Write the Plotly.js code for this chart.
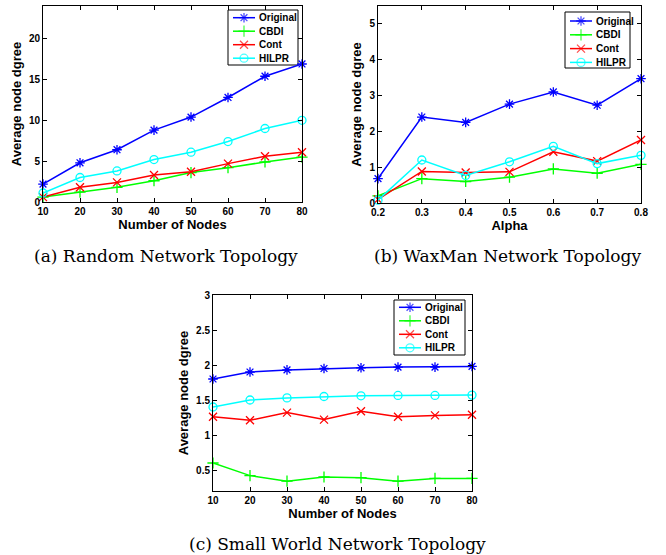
<!DOCTYPE html>
<html><head><meta charset="utf-8">
<script src="https://cdn.plot.ly/plotly-3.0.1.min.js"></script>
<style>body{margin:0;background:#fff}#c{width:666px;height:555px}</style>
</head><body><div id="c"></div>
<script>
const seriesNames = ['Original','CBDI','Cont','HILPR'];
const nodesX = [10,20,30,40,50,60,70,80];
const alphaX = [0.2,0.3,0.4,0.5,0.6,0.7,0.8];

const randOriginal = [2.2,4.8,6.4,8.8,10.4,12.8,15.4,16.9];
const randCBDI     = [0.6,1.2,1.8,2.6,3.6,4.2,4.9,5.5];
const randCont     = [0.6,1.8,2.4,3.3,3.7,4.7,5.6,6.1];
const randHILPR    = [1.1,3.0,3.8,5.2,6.1,7.4,9.0,10.0];

const waxOriginal = [0.68,2.4,2.25,2.76,3.1,2.73,3.47];
const waxCBDI     = [0.2,0.68,0.6,0.72,0.95,0.83,1.08];
const waxCont     = [0.1,0.88,0.85,0.87,1.43,1.17,1.76];
const waxHILPR    = [0.08,1.2,0.77,1.15,1.58,1.1,1.33];

const swOriginal = [1.8,1.9,1.93,1.95,1.96,1.97,1.97,1.98];
const swCBDI     = [0.6,0.42,0.34,0.4,0.39,0.34,0.38,0.38];
const swCont     = [1.26,1.21,1.32,1.22,1.34,1.26,1.28,1.29];
const swHILPR    = [1.4,1.5,1.53,1.55,1.56,1.565,1.565,1.57];

const captions = ['(a) Random Network Topology','(b) WaxMan Network Topology','(c) Small World Network Topology'];

const W = 666, H = 555;
const colors = ['#0000ff','#00ff00','#ff0000','#00ffff'];
const symbols = ['asterisk-open','cross-thin-open','x-thin-open','circle-open'];

const traces = [];
function addSet(x, ys, xa, ya){
  ys.forEach((y,i)=>{
    traces.push({x:x,y:y,xaxis:xa,yaxis:ya,name:seriesNames[i],type:'scatter',mode:'lines+markers',showlegend:false,
      line:{color:colors[i],width:1.5},cliponaxis:false,
      marker:{symbol:symbols[i],size:8,color:colors[i],line:{color:colors[i],width:1.3}}});
  });
}
addSet(nodesX,[randOriginal,randCBDI,randCont,randHILPR],'x','y');
addSet(alphaX,[waxOriginal,waxCBDI,waxCont,waxHILPR],'x2','y2');
addSet(nodesX,[swOriginal,swCBDI,swCont,swHILPR],'x3','y3');

// legend boxes (pixel layout): left, top, width, height, first row offset, row step
const legendBoxes = [
  {l:228, t:10, w:70, h:55, r0:7.7, dr:13.5},
  {l:565, t:12, w:65, h:56, r0:9, dr:13.8},
  {l:394, t:300, w:71, h:55, r0:7.3, dr:13.5}
];
const shapes = [];
const annotations = [];
const legFont = {family:'Liberation Sans, Arial, sans-serif',size:10,color:'#000',weight:'bold'};
legendBoxes.forEach(b=>{
  shapes.push({type:'rect',xref:'paper',yref:'paper',x0:b.l/W,x1:(b.l+b.w)/W,y0:1-b.t/H,y1:1-(b.t+b.h)/H,
    line:{color:'#000',width:1},fillcolor:'#fff',layer:'below'});
  seriesNames.forEach((n,i)=>{
    const yy = b.t + b.r0 + i*b.dr;
    traces.push({x:[b.l+5,b.l+16,b.l+27],y:[yy,yy,yy],xaxis:'x4',yaxis:'y4',type:'scatter',mode:'lines+markers',
      showlegend:false,cliponaxis:false,line:{color:colors[i],width:1.5},
      marker:{symbol:symbols[i],size:[0,8,0],color:colors[i],line:{color:colors[i],width:1.3}}});
    annotations.push({text:n,xref:'paper',yref:'paper',x:(b.l+29)/W,y:1-yy/H,xanchor:'left',yanchor:'middle',
      showarrow:false,font:legFont});
  });
});

const tickFont = {family:'Liberation Sans, Arial, sans-serif',size:10,color:'#000',weight:'bold'};
const titleFont = {family:'Liberation Sans, Arial, sans-serif',size:13,color:'#000',weight:'bold'};
function ax(extra){
  return Object.assign({showline:true,mirror:'ticks',linecolor:'#000',linewidth:1,ticks:'inside',ticklen:4,
    tickcolor:'#000',showgrid:false,zeroline:false,tickfont:tickFont,fixedrange:true},extra);
}
const capFont = {family:'DejaVu Serif, Liberation Serif, serif',size:17,color:'#000'};
annotations.push(
  {text:captions[0],x:166/W,y:1-256/H,xref:'paper',yref:'paper',xanchor:'center',yanchor:'middle',showarrow:false,font:capFont},
  {text:captions[1],x:507/W,y:1-256/H,xref:'paper',yref:'paper',xanchor:'center',yanchor:'middle',showarrow:false,font:capFont},
  {text:captions[2],x:337/W,y:1-544/H,xref:'paper',yref:'paper',xanchor:'center',yanchor:'middle',showarrow:false,font:capFont}
);

const layout = {
  width:W,height:H,margin:{l:0,r:0,t:0,b:0},paper_bgcolor:'#fff',plot_bgcolor:'rgba(0,0,0,0)',showlegend:false,
  xaxis: ax({domain:[43/W,302/W],anchor:'y',range:[10,80],tickvals:nodesX,title:{text:'Number of Nodes',font:titleFont,standoff:2}}),
  yaxis: ax({domain:[1-202/H,1-6/H],anchor:'x',range:[0,24],tickvals:[0,5,10,15,20],title:{text:'Average node dgree',font:titleFont,standoff:4}}),
  xaxis2: ax({domain:[378/W,641/W],anchor:'y2',range:[0.2,0.8],tickvals:alphaX,ticktext:alphaX.map(v=>v.toFixed(1)),title:{text:'Alpha',font:titleFont,standoff:2}}),
  yaxis2: ax({domain:[1-203/H,1-6/H],anchor:'x2',range:[0,5.5],tickvals:[0,1,2,3,4,5],title:{text:'Average node dgree',font:titleFont,standoff:4}}),
  xaxis3: ax({domain:[213/W,472/W],anchor:'y3',range:[10,80],tickvals:nodesX,title:{text:'Number of Nodes',font:titleFont,standoff:2}}),
  yaxis3: ax({domain:[1-491/H,1-295/H],anchor:'x3',range:[0.2,3],tickvals:[0.5,1,1.5,2,2.5,3],title:{text:'Average node dgree',font:titleFont,standoff:4}}),
  xaxis4: {domain:[0,1],anchor:'y4',range:[0,W],visible:false,fixedrange:true},
  yaxis4: {domain:[0,1],anchor:'x4',range:[H,0],visible:false,fixedrange:true},
  shapes:shapes,
  annotations:annotations
};
Plotly.newPlot('c',traces,layout,{displayModeBar:false,staticPlot:true});
</script></body></html>
